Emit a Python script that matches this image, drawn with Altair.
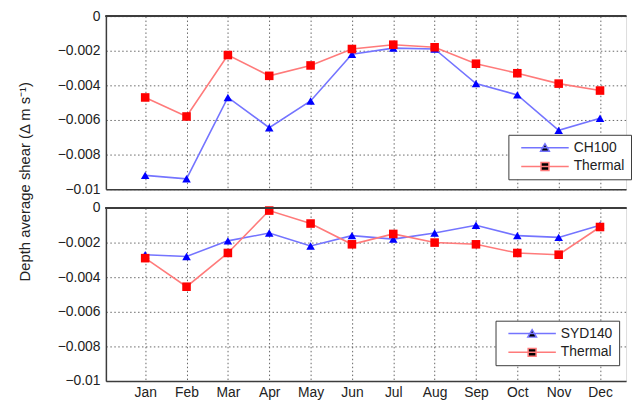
import altair as alt
import pandas as pd

months = ["Jan", "Feb", "Mar", "Apr", "May", "Jun", "Jul", "Aug", "Sep", "Oct", "Nov", "Dec"]
month_index = list(range(1, 13))

ch100 = [-0.0092, -0.0094, -0.0047, -0.00645, -0.0049, -0.0022, -0.00185, -0.0019, -0.0039, -0.00455, -0.0066, -0.0059]
thermal_top = [-0.0047, -0.0058, -0.00225, -0.00345, -0.00285, -0.0019, -0.00165, -0.0018, -0.00275, -0.0033, -0.0039, -0.0043]
syd140 = [-0.0027, -0.0028, -0.0019, -0.00145, -0.0022, -0.0016, -0.0018, -0.00145, -0.001, -0.0016, -0.0017, -0.001]
thermal_bottom = [-0.0029, -0.00455, -0.0026, -0.00015, -0.0009, -0.0021, -0.0015, -0.002, -0.0021, -0.0026, -0.0027, -0.0011]

y_ticks = [0, -0.002, -0.004, -0.006, -0.008, -0.01]
y_title = "Depth average shear (Δ m s⁻¹)"

FONT = "Liberation Sans"
FRAME = "#3c3c3c"
GRID = "#666666"
BLUE, RED = "#0000ff", "#ff0000"
BLUE_LINE, RED_LINE = "#7474ff", "#ff7a7a"
LEGEND_TRI = "M-6,0H6M-1.1,0.9L0,-1L1.1,0.9Z"
LEGEND_SQ = "M-6,0H6M-1,-1H1V1H-1Z"

H = 175
W = 526

month_expr = "[" + ",".join("'%s'" % m for m in months) + "][datum.value - 1]"


def panel(name, mooring_vals, thermal_vals, show_labels, show_title, lx, ly):
    df = pd.DataFrame({
        "month": month_index * 2,
        "value": mooring_vals + thermal_vals,
        "series": [name] * 12 + ["Thermal"] * 12,
    })
    x = alt.X("month:Q",
              scale=alt.Scale(domain=[0.05, 12.63], nice=False, zero=False),
              axis=alt.Axis(values=month_index, labelExpr=month_expr, labels=show_labels,
                            ticks=False, grid=True, gridColor=GRID, gridDash=[1.5, 2.5],
                            gridWidth=1, gridOpacity=1, domainColor=FRAME, domainWidth=1.5,
                            labelFont=FONT, labelFontSize=14, labelColor="#222",
                            labelPadding=5, labelFlush=False, labelOverlap=False, title=None))
    yaxis = dict(values=y_ticks, format="~g", ticks=False, grid=True, gridColor=GRID,
                 gridDash=[1.5, 2.5], gridWidth=1, gridOpacity=1, domainColor=FRAME,
                 domainWidth=1.5, labelFont=FONT, labelFontSize=14, labelColor="#222",
                 labelPadding=6, labelOverlap=False)
    if show_title:
        yaxis.update(title=y_title, titleFont=FONT, titleFontSize=15, titleFontWeight="normal",
                     titleColor="#222", titleX=-74, titleY=167, titleAngle=-90,
                     titleAlign="center", titleBaseline="bottom")
    else:
        yaxis.update(title=None)
    yscale = alt.Scale(domain=[-0.01, 0], nice=False)
    y = alt.Y("value:Q", scale=yscale, axis=alt.Axis(**yaxis))

    dom = [name, "Thermal"]
    line_scale = alt.Scale(domain=dom, range=[BLUE_LINE, RED_LINE])
    color_scale = alt.Scale(domain=dom, range=[BLUE, RED])
    shape_scale = alt.Scale(domain=dom, range=["triangle-up", "square"])
    legend_shape_scale = alt.Scale(domain=dom, range=[LEGEND_TRI, LEGEND_SQ])

    legend = alt.Legend(
        orient="none", legendX=lx, legendY=ly, title=None,
        strokeColor=FRAME, fillColor="white", padding=6, cornerRadius=0,
        labelFont=FONT, labelFontSize=14, labelColor="#222",
        symbolSize=64, symbolOffset=24, labelOffset=22, rowPadding=5,
        symbolOpacity=1, symbolStrokeWidth=1.5)

    base = alt.Chart(df)
    lines = base.mark_line(strokeWidth=1.6).encode(
        x=x, y=y, stroke=alt.Stroke("series:N", scale=line_scale, legend=None))
    points = base.mark_point(filled=True, size=75, opacity=1).encode(
        x=x, y=y,
        color=alt.Color("series:N", scale=color_scale, legend=None),
        shape=alt.Shape("series:N", scale=shape_scale, legend=None))
    legend_layer = base.mark_point(opacity=0, size=64).encode(
        x=x, y=y,
        fill=alt.Fill("series:N", scale=color_scale, legend=legend),
        stroke=alt.Stroke("series:N", scale=line_scale, legend=legend),
        shape=alt.Shape("series:N", scale=legend_shape_scale, legend=legend))
    top = base.mark_rule(color=FRAME, strokeWidth=1.5).encode(
        y=alt.YDatum(0, type="quantitative", scale=yscale, axis=alt.Axis(**yaxis)))
    return alt.layer(lines, points, legend_layer, top).resolve_scale(
        shape="independent", stroke="independent").properties(width=W, height=H)


upper = panel("CH100", ch100, thermal_top, False, True, 407, 120)
lower = panel("SYD140", syd140, thermal_bottom, True, False, 394, 114)

chart = alt.vconcat(upper, lower, spacing=19, bounds="flush").properties(
    padding={"left": 9, "top": -2, "right": 0, "bottom": 0}
).configure_view(stroke=None).configure(background="white")

chart.save("out.html", embed_options={"renderer": "svg", "actions": False})
